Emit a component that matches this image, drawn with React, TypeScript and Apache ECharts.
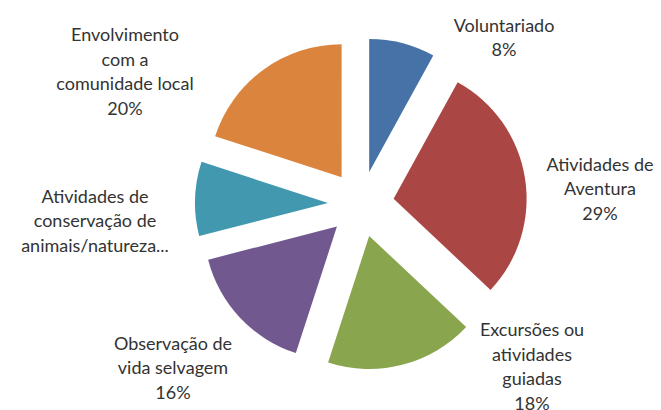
import React, { useEffect, useRef } from "react";
import * as echarts from "echarts";

const categories = [
  "Voluntariado",
  "Atividades de Aventura",
  "Excursões ou atividades guiadas",
  "Observação de vida selvagem",
  "Atividades de conservação de animais/natureza",
  "Envolvimento com a comunidade local",
];
const values = [8, 29, 18, 16, 9, 20];
const labelLines: string[][] = [
  ["Voluntariado"],
  ["Atividades de", "Aventura"],
  ["Excursões ou", "atividades", "guiadas"],
  ["Observação de", "vida selvagem"],
  ["Atividades de", "conservação de", "animais/natureza..."],
  ["Envolvimento", "com a", "comunidade local"],
];
const showPercent = [true, true, true, true, false, true];
const colors = ["#4672A8", "#AA4744", "#89A54E", "#71588F", "#4198AF", "#DB843D"];
const labelCenters: [number, number][] = [
  [504, 37],
  [600, 188],
  [532, 366],
  [173, 367],
  [95, 220],
  [125, 71],
];

export default function App() {
  const ref = useRef<HTMLDivElement>(null);
  useEffect(() => {
    if (!ref.current) return;
    const chart = echarts.init(ref.current, undefined, { renderer: "svg" });
    const total = values.reduce((a, b) => a + b, 0);
    chart.setOption({
      animation: false,
      backgroundColor: "#ffffff",
      series: [
        {
          type: "pie",
          center: [361, 204],
          radius: [0, 133],
          startAngle: 90,
          clockwise: true,
          selectedMode: "multiple",
          selectedOffset: 33,
          emphasis: { disabled: true },
          data: categories.map((c, i) => ({
            name: c,
            value: values[i],
            selected: true,
            itemStyle: { color: colors[i] },
          })),
          label: { show: false },
          labelLine: { show: false },
        },
      ],
      graphic: labelLines.map((lines, i) => ({
        type: "text",
        x: labelCenters[i][0],
        y: labelCenters[i][1],
        silent: true,
        style: {
          text: showPercent[i]
            ? lines.join("\n") + "\n" + Math.round((values[i] / total) * 100) + "%"
            : lines.join("\n"),
          fontFamily: "Lato",
          fontSize: 18,
          lineHeight: 24.5,
          fill: "#333333",
          align: "center",
          verticalAlign: "middle",
        },
      })),
    });
    return () => chart.dispose();
  }, []);
  return (
    <div
      ref={ref}
      style={{ position: "fixed", left: 0, top: 0, width: 661, height: 410 }}
    />
  );
}
